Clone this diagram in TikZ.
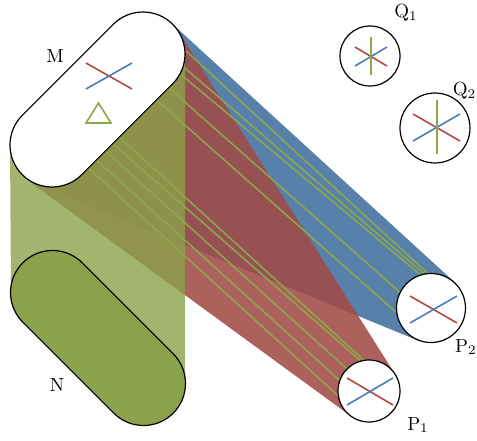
\documentclass[tikz,border=0pt]{standalone}
\usetikzlibrary{shapes.misc,calc}
\definecolor{gcol}{HTML}{8BA14A}
\definecolor{glin}{HTML}{8CA84A}
\definecolor{rcol}{RGB}{160,75,70}
\definecolor{bcol}{HTML}{5780AA}
\definecolor{xred}{HTML}{B04A48}
\definecolor{xblue}{HTML}{4A7DB5}
\pgfdeclarelayer{regions}
\pgfdeclarelayer{rays}
\pgfsetlayers{regions,rays,main}
\begin{document}
\begin{tikzpicture}[x=1pt,y=-1pt,
  capsule/.style={draw=black, line width=1.2pt, rounded rectangle, minimum width=212.7pt, minimum height=84pt, inner sep=0pt},
  view/.style={draw=black, line width=1.2pt, circle, fill=white, inner sep=0pt},
  ray/.style={glin, line width=1.5pt},
  xr/.style={xred, line width=1.6pt},
  xb/.style={xblue, line width=1.6pt},
  xg/.style={glin, line width=1.6pt},
  lbl/.style={font=\normalsize, scale=1.9, inner sep=0pt}]
\useasboundingbox (0,0) rectangle (477,441);
% main objects
\node[capsule, fill=white, rotate=45] (M) at (97.5,99.5) {};
\node[capsule, fill=gcol, rotate=-45] (N) at (98,338) {};
\node[view, minimum size=62pt] (P1) at (369,391) {};
\node[view, minimum size=69pt] (P2) at (431,308) {};
\node[view, minimum size=60pt] (Q1) at (370,56) {};
\node[view, minimum size=70pt] (Q2) at (435,128) {};
% crosses
\draw[xr] ($(M.center)+(-11.5,-36.5)$) coordinate (ma) -- ++(46,26);
\draw[xb] ($(ma)+(0,26)$) -- ++(46,-26);
\draw[xg, line join=miter] (86,123) coordinate (t1) -- (111,123) coordinate (t2) -- (98.5,103) coordinate (t3) -- cycle;
\draw[xr] ($(P1.center)+(-22,-13)$) -- ($(P1.center)+(24,14)$);
\draw[xb] ($(P1.center)+(-22,14)$) -- ($(P1.center)+(24,-13)$);
\draw[xr] ($(P2.center)+(-21,-12)$) -- ($(P2.center)+(26,15)$);
\draw[xb] ($(P2.center)+(-21,15)$) -- ($(P2.center)+(26,-12)$);
\draw[xr] ($(Q1.center)+(-15,-9)$) -- ($(Q1.center)+(17,10)$);
\draw[xb] ($(Q1.center)+(-15,10)$) -- ($(Q1.center)+(17,-9)$);
\draw[xg] ($(Q1.center)+(1,-19)$) -- ($(Q1.center)+(1,19)$);
\draw[xr] ($(Q2.center)+(-22,-14)$) -- ($(Q2.center)+(25,13)$);
\draw[xb] ($(Q2.center)+(-22,13)$) -- ($(Q2.center)+(25,-14)$);
\draw[xg] ($(Q2.center)+(2,-28)$) -- ($(Q2.center)+(2,26)$);
% labels
\node[lbl] (lM) at (55,56) {M};
\node[lbl] (lN) at (57,385) {N};
\node[lbl] (lQ1) at (406,13) {Q$_1$};
\node[lbl, anchor=east] (lQ2) at (476.5,91) {Q$_2$};
\node[lbl] (lP1) at (418,425) {P$_1$};
\node[lbl, anchor=east] (lP2) at (477,347) {P$_2$};
% regions
\begin{pgfonlayer}{regions}
\coordinate (mt) at (143,54);
\coordinate (mb) at (52,145);
\fill[bcol] (171.3,23) -- (454.6,282.2) -- (P2.center) -- (417.7,340.4) -- (36.1,183.9) -- (mb) -- (mt) -- cycle;
\fill[rcol, opacity=0.88] (178.5,31.6) -- (395.2,374.4) -- (P1.center) -- (350.7,416) -- (30,182) -- (mb) -- (mt) -- cycle;
\fill[gcol, opacity=0.8] (10,145) -- (185,54) -- (185,383) -- (11,293) -- cycle;
\end{pgfonlayer}
% rays
\begin{pgfonlayer}{rays}
\coordinate (s1) at (165.2,31.8);
\coordinate (s2) at (159.7,46.3);
\coordinate (s3) at (149.1,47.9);
\coordinate (s4) at (137.1,59.9);
\coordinate (s5) at (125,72);
\coordinate (s6) at (95,115);
\coordinate (s7) at (88,122);
\coordinate (s8) at (80,128);
\coordinate (s9) at (70,136);
\coordinate (s10) at (62,144);
\draw[ray] (s1) -- (P2.96);
\draw[ray] (s2) -- (P2.102);
\draw[ray] (s3) -- (P2.108);
\draw[ray] (s4) -- (P2.153);
\draw[ray] (s5) -- (P2.187);
\draw[ray] (s6) -- (P1.100);
\draw[ray] (s7) -- (P1.106);
\draw[ray] (s8) -- (P1.135);
\draw[ray] (s9) -- (P1.160);
\draw[ray] (s10) -- (P1.188);
\end{pgfonlayer}
\end{tikzpicture}
\end{document}
